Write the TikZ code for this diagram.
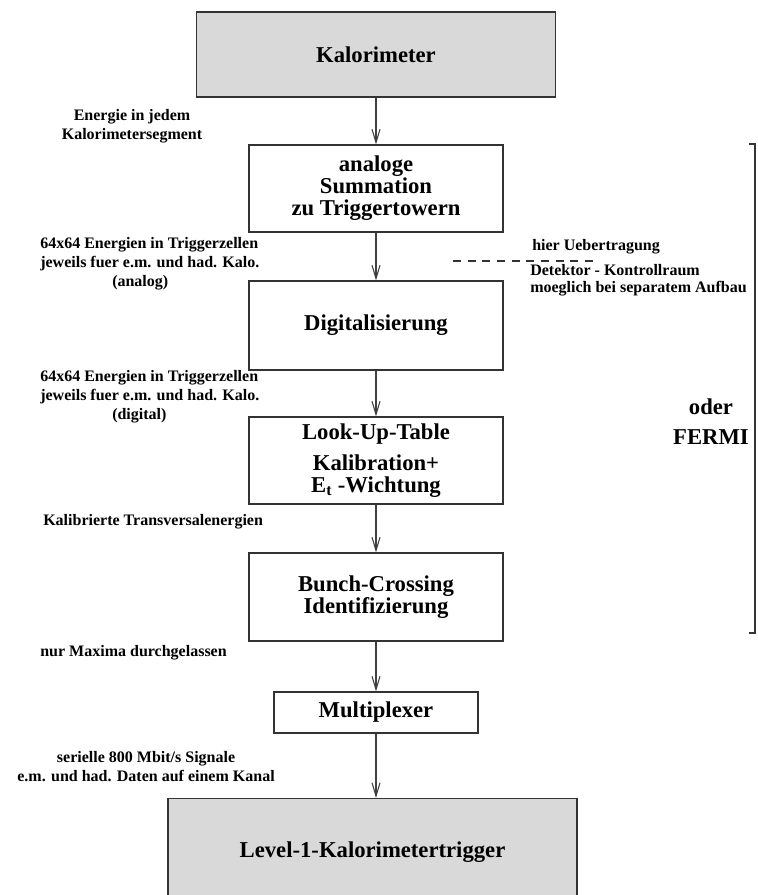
\documentclass[tikz,border=0pt]{standalone}
\usepackage{fontspec}
\setmainfont{Liberation Serif}
\usetikzlibrary{arrows.meta}

\begin{document}
\begin{tikzpicture}[x=0.75pt,y=-0.75pt]
\tikzstyle{block}=[draw=black!80,line width=0.8pt,inner sep=0pt,align=center,font=\fontsize{17}{16.5}\selectfont\bfseries]
\tikzstyle{grey block}=[block,fill=black!15]
\tikzstyle{note}=[inner sep=0pt,font=\fontsize{12}{14.25}\selectfont\bfseries]
\tikzstyle{flow}=[draw=black!75,line width=0.8pt,-{Straight Barb[length=10pt,width=6pt]}]
\clip (0,0) rectangle (757,895);
\node[grey block,minimum width=269.25pt,minimum height=63.75pt] (kal) at (376,54.5) {Kalorimeter};
\node[block,minimum width=190.5pt,minimum height=65.25pt] (sum) at (376,188.5) {analoge\\Summation\\zu Triggertowern};
\node[block,minimum width=190.5pt,minimum height=66.75pt] (dig) at (376,325.5) {Digitalisierung};
\node[block,minimum width=190.5pt,minimum height=65.25pt] (lut) at (376,460.5) {Look-Up-Table\\[7pt]Kalibration+\\E\textsubscript{t} -Wichtung};
\node[block,minimum width=190.5pt,minimum height=66pt] (bcid) at (376,597) {Bunch-Crossing\\Identifizierung};
\node[block,minimum width=153pt,minimum height=30.75pt] (mux) at (376,712.5) {Multiplexer};
\node[grey block,minimum width=306.75pt,minimum height=80.25pt] (l1) at (372.5,852) {Level-1-Kalorimetertrigger};
\draw[flow] (kal) -- (sum);
\draw[flow] (sum) -- (dig);
\draw[flow] (dig) -- (lut);
\draw[flow] (lut) -- (bcid);
\draw[flow] (bcid) -- (mux);
\draw[flow] (mux) -- (mux |- l1.north);
\node[note,align=center] (seg) at (132,126) {Energie in jedem\\Kalorimetersegment};
\node[note,align=left,anchor=west] (analog) at (40,264) {64x64 Energien in Triggerzellen\\jeweils fuer e.m. und had. Kalo.\\\hspace*{4.5em}(analog)};
\node[note,align=left,anchor=west] (digital) at (40,397) {64x64 Energien in Triggerzellen\\jeweils fuer e.m. und had. Kalo.\\\hspace*{4.5em}(digital)};
\node[note,anchor=west] (kalib) at (43,522) {Kalibrierte Transversalenergien};
\node[note,anchor=east] (maxima) at (227,653) {nur Maxima durchgelassen};
\node[note,align=center,anchor=east] (seriell) at (275,767) {serielle 800 Mbit/s Signale\\e.m. und had. Daten auf einem Kanal};
\node[note,anchor=west] (hier) at (532,247) {hier Uebertragung};
\node[note,align=left,anchor=west,font=\fontsize{12}{12.5}\selectfont\bfseries] (ort) at (530,280) {Detektor - Kontrollraum\\moeglich bei separatem Aufbau};
\coordinate (dl) at (453,261);
\coordinate (dr) at (597,261);
\draw[black!80,line width=0.8pt,dash pattern=on 6pt off 5pt] (dl) -- (dr);
\node[block,draw=none,font=\fontsize{17}{22.5}\selectfont\bfseries] (fermi) at (711,422) {oder\\FERMI};
\coordinate (bt) at (755,144);
\coordinate (bb) at (755,633);
\draw[black!80,line width=0.8pt] (bt) ++(-6,0) -- (bt) -- (bb) -- ++(-6,0);
\end{tikzpicture}
\end{document}
